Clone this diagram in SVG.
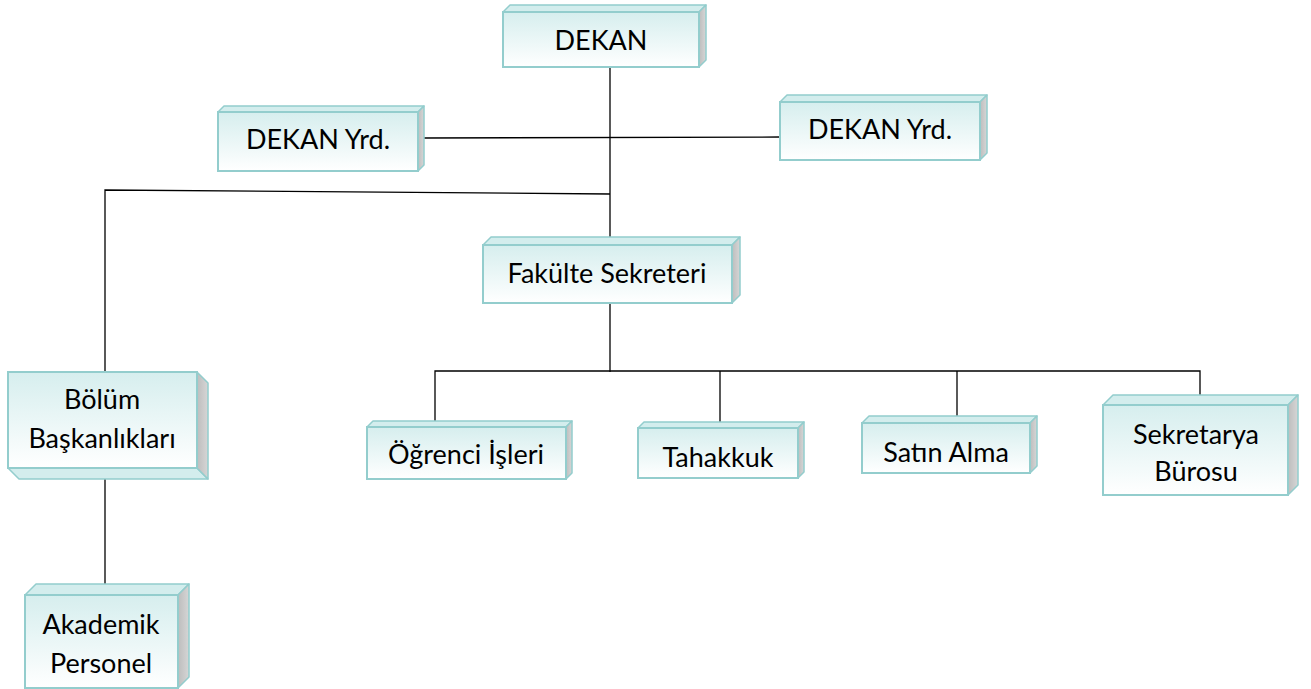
<svg xmlns="http://www.w3.org/2000/svg" width="1311" height="689" viewBox="0 0 1311 689">
<defs>
<linearGradient id="fg" x1="0" y1="0" x2="0" y2="1">
<stop offset="0" stop-color="#D6EEEE"/>
<stop offset="1" stop-color="#FFFFFF"/>
</linearGradient>
<linearGradient id="sg" x1="0" y1="0" x2="1" y2="0">
<stop offset="0" stop-color="#BDBDBD"/>
<stop offset="1" stop-color="#D6D6D6"/>
</linearGradient>
<style>
.front{fill:url(#fg);stroke:#93CDCD;stroke-width:2}
.top{fill:#D3EDED;stroke:#93CDCD;stroke-width:1.5;stroke-linejoin:round}
.side{fill:url(#sg);stroke:#93CDCD;stroke-width:1.5;stroke-linejoin:round}
.lbl{font-family:Lato,"Liberation Sans",sans-serif;font-size:27px;fill:#000;text-anchor:middle}
.ln{stroke:#000;stroke-width:1.3;fill:none}
</style>
</defs>
<rect width="1311" height="689" fill="#fff"/>
<g id="connectors">
<line class="ln" x1="610" y1="68" x2="610" y2="238"/>
<line class="ln" x1="424" y1="138" x2="780" y2="137"/>
<polyline class="ln" points="105,372 105,190 610,194"/>
<line class="ln" x1="610" y1="303" x2="610" y2="372"/>
<polyline class="ln" points="435,421 435,371 1200,371 1200,395"/>
<line class="ln" x1="720" y1="371" x2="720" y2="423"/>
<line class="ln" x1="957" y1="371" x2="957" y2="418"/>
<line class="ln" x1="105" y1="479" x2="105" y2="585"/>
</g>
<g id="dekan">
<polygon class="top" points="503,12 510,5 706,5 699,12"/>
<polygon class="side" points="699,12 706,5 706,60 699,67"/>
<rect class="front" x="503" y="12" width="196" height="55"/>
<text class="lbl" x="601" y="50">DEKAN</text>
</g>
<g id="dekan-yrd-1">
<polygon class="top" points="218,112 224,106 424,106 418,112"/>
<polygon class="side" points="418,112 424,106 424,165 418,171"/>
<rect class="front" x="218" y="112" width="200" height="59"/>
<text class="lbl" x="318" y="149">DEKAN Yrd.</text>
</g>
<g id="dekan-yrd-2">
<polygon class="top" points="780,102 787,95 987,95 980,102"/>
<polygon class="side" points="980,102 987,95 987,153 980,160"/>
<rect class="front" x="780" y="102" width="200" height="58"/>
<text class="lbl" x="880" y="139">DEKAN Yrd.</text>
</g>
<g id="fakulte-sekreteri">
<polygon class="top" points="483,245 491,237 740,237 732,245"/>
<polygon class="side" points="732,245 740,237 740,295 732,303"/>
<rect class="front" x="483" y="245" width="249" height="58"/>
<text class="lbl" x="607" y="283">Fakülte Sekreteri</text>
</g>
<g id="bolum-baskanliklari">
<polygon class="top" points="8,468 197,468 208,479 19,479"/>
<polygon class="side" points="197,372 208,383 208,479 197,468"/>
<rect class="front" x="8" y="372" width="189" height="96"/>
<text class="lbl" x="102" y="409">Bölüm</text>
<text class="lbl" x="102" y="448">Başkanlıkları</text>
</g>
<g id="ogrenci-isleri">
<polygon class="top" points="367,427 373,421 572,421 566,427"/>
<polygon class="side" points="566,427 572,421 572,473 566,479"/>
<rect class="front" x="367" y="427" width="199" height="52"/>
<text class="lbl" x="466" y="464">Öğrenci İşleri</text>
</g>
<g id="tahakkuk">
<polygon class="top" points="638,428 644,422 804,422 798,428"/>
<polygon class="side" points="798,428 804,422 804,472 798,478"/>
<rect class="front" x="638" y="428" width="160" height="50"/>
<text class="lbl" x="718" y="467">Tahakkuk</text>
</g>
<g id="satin-alma">
<polygon class="top" points="862,423 869,416 1037,416 1030,423"/>
<polygon class="side" points="1030,423 1037,416 1037,466 1030,473"/>
<rect class="front" x="862" y="423" width="168" height="50"/>
<text class="lbl" x="946" y="462">Satın Alma</text>
</g>
<g id="sekretarya-burosu">
<polygon class="top" points="1103,405 1113,395 1298,395 1288,405"/>
<polygon class="side" points="1288,405 1298,395 1298,485 1288,495"/>
<rect class="front" x="1103" y="405" width="185" height="90"/>
<text class="lbl" x="1196" y="444">Sekretarya</text>
<text class="lbl" x="1196" y="481">Bürosu</text>
</g>
<g id="akademik-personel">
<polygon class="top" points="25,595 36,584 189,584 178,595"/>
<polygon class="side" points="178,595 189,584 189,677 178,688"/>
<rect class="front" x="25" y="595" width="153" height="93"/>
<text class="lbl" x="101" y="634">Akademik</text>
<text class="lbl" x="101" y="673">Personel</text>
</g>
</svg>
